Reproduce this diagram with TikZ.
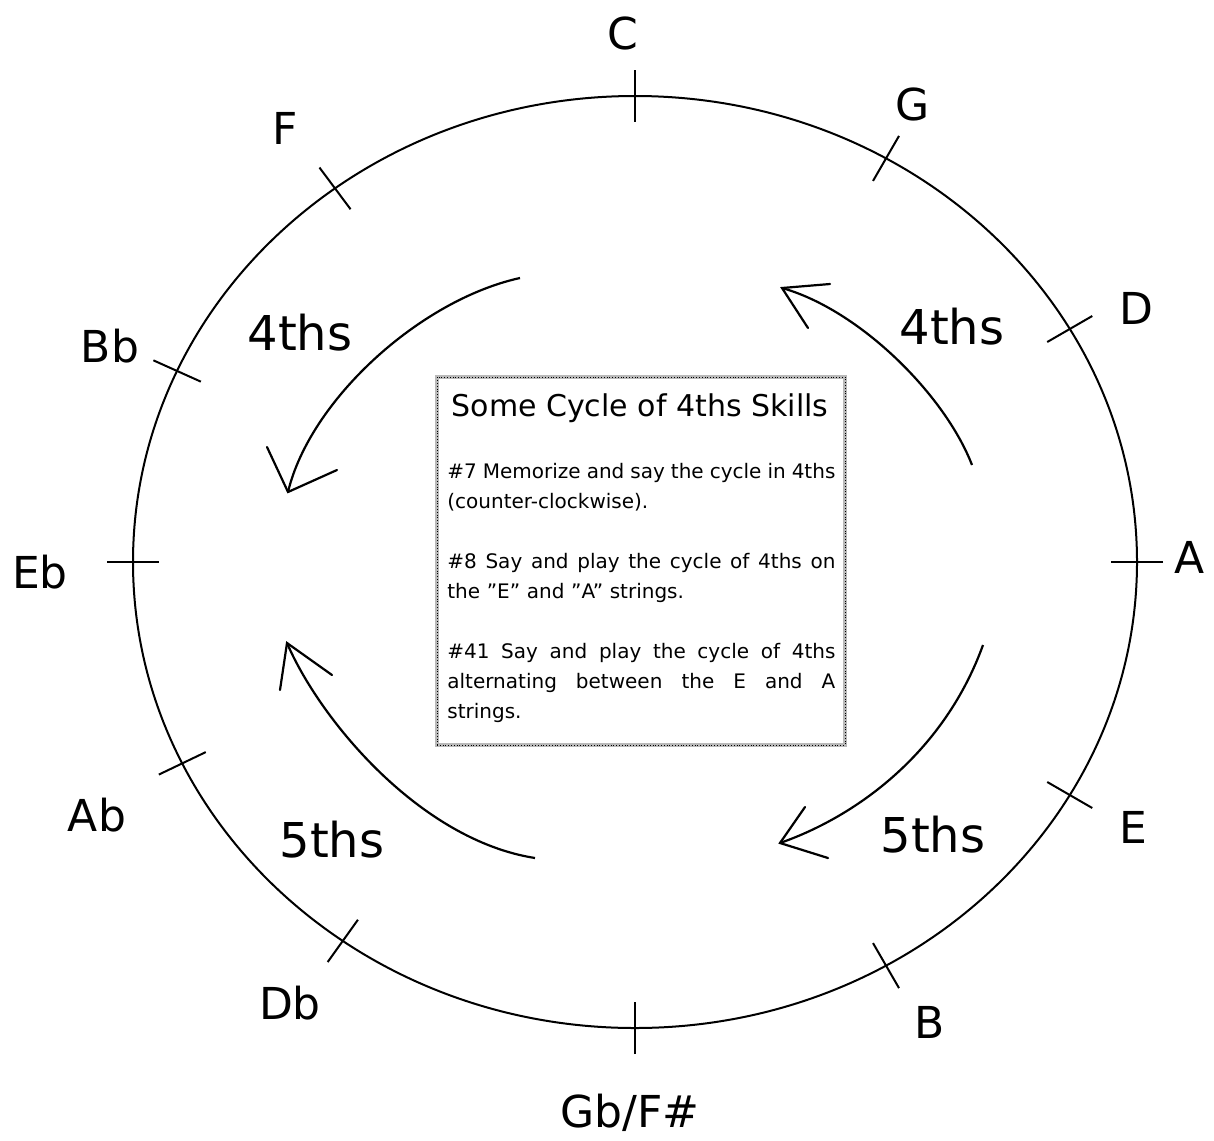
\documentclass[tikz,border=0pt]{standalone}
\usepackage{fontspec}
\setmainfont{DejaVu Sans}
\newcommand{\fullline}[1]{\leavevmode\hbox to 194pt{\spaceskip=0.2em plus 1fil\relax #1}}
\begin{document}
\begin{tikzpicture}[x=0.5pt,y=-0.5pt,
  ring/.style={line width=1pt},
  tickmark/.style={line width=1pt},
  notelbl/.style={font=\fontsize{22}{26}\selectfont, inner sep=0pt},
  intlbl/.style={font=\fontsize{24}{28}\selectfont, inner sep=0pt},
  arcline/.style={line width=1.1pt},
  barb/.style={line width=1.1pt, line cap=round},
  boxframe/.style={draw=gray!55, line width=1.6pt, inner sep=0pt},
  boxdots/.style={draw=black, densely dotted, line width=0.4pt, inner sep=0pt}]
\useasboundingbox (0,0) rectangle (1214,1140);
% circle of fifths
\draw[ring] (635,562) ellipse [x radius=251pt, y radius=233pt];
\foreach \a/\n in {90/C,60/G,30/D,0/A,-30/E,-60/B,-90/Gb,-125.6/Db,-154.4/Ab,180/Eb,155.8/Bb,126.7/F}{
  \coordinate (t\n) at ({635+502*cos(\a)},{562-466*sin(\a)});
  \draw[tickmark] (t\n) ++({26*cos(\a)},{-26*sin(\a)}) -- ++({-52*cos(\a)},{52*sin(\a)});
}
% note labels
\node[notelbl] (lC)  at (623,33)   {C};
\node[notelbl] (lG)  at (913,104)  {G};
\node[notelbl] (lD)  at (1136,308) {D};
\node[notelbl] (lA)  at (1190,557) {A};
\node[notelbl] (lE)  at (1133,827) {E};
\node[notelbl] (lB)  at (930,1022) {B};
\node[notelbl] (lGb) at (630,1113) {Gb/F\#};
\node[notelbl] (lDb) at (290,1003) {Db};
\node[notelbl] (lAb) at (97,815)   {Ab};
\node[notelbl] (lEb) at (40,572)   {Eb};
\node[notelbl] (lBb) at (110,346)  {Bb};
\node[notelbl] (lF)  at (285,128)  {F};
% interval labels
\node[intlbl] (i1) at (300,333) {4ths};
\node[intlbl] (i2) at (952,327) {4ths};
\node[intlbl] (i3) at (332,840) {5ths};
\node[intlbl] (i4) at (933,835) {5ths};
% arrows
\coordinate (a1s) at (520,278); \coordinate (a1t) at (288,492);
\coordinate (a1l) at (267,447); \coordinate (a1r) at (337,470);
\draw[arcline] (a1s) .. controls (420,300) and (310,400) .. (a1t);
\draw[barb] (a1l) -- (a1t) -- (a1r);
\coordinate (a2s) at (972,465); \coordinate (a2t) at (782,288);
\coordinate (a2l) at (808,328); \coordinate (a2r) at (830,284);
\draw[arcline] (a2s) .. controls (945,395) and (860,310) .. (a2t);
\draw[barb] (a2l) -- (a2t) -- (a2r);
\coordinate (a3s) at (535,858); \coordinate (a3t) at (287,643);
\coordinate (a3l) at (280,690); \coordinate (a3r) at (332,675);
\draw[arcline] (a3s) .. controls (420,840) and (320,720) .. (a3t);
\draw[barb] (a3l) -- (a3t) -- (a3r);
\coordinate (a4s) at (983,645); \coordinate (a4t) at (780,843);
\coordinate (a4l) at (805,807); \coordinate (a4r) at (828,858);
\draw[arcline] (a4s) .. controls (945,750) and (860,815) .. (a4t);
\draw[barb] (a4l) -- (a4t) -- (a4r);
% text box
\node[boxframe, minimum width=204pt, minimum height=184pt] (frame) at (641,561) {};
\node[boxdots, minimum width=204pt, minimum height=184pt] (framedots) at (641,561) {};
\node[font=\fontsize{15}{18}\selectfont, inner sep=0pt] (title) at (640,408) {Some Cycle of 4ths Skills};
\node[font=\fontsize{10}{15}\selectfont, text width=194pt, align=left, inner sep=0pt, anchor=north west] (body) at (447,463) {%
\fullline{\#7 Memorize and say the cycle in 4ths}\\
(counter-clockwise).\\[15pt]
\fullline{\#8 Say and play the cycle of 4ths on}\\
the "E" and "A" strings.\\[15pt]
\fullline{\#41 Say and play the cycle of 4ths}\\
\fullline{alternating between the E and A}\\
strings.};
\end{tikzpicture}
\end{document}
